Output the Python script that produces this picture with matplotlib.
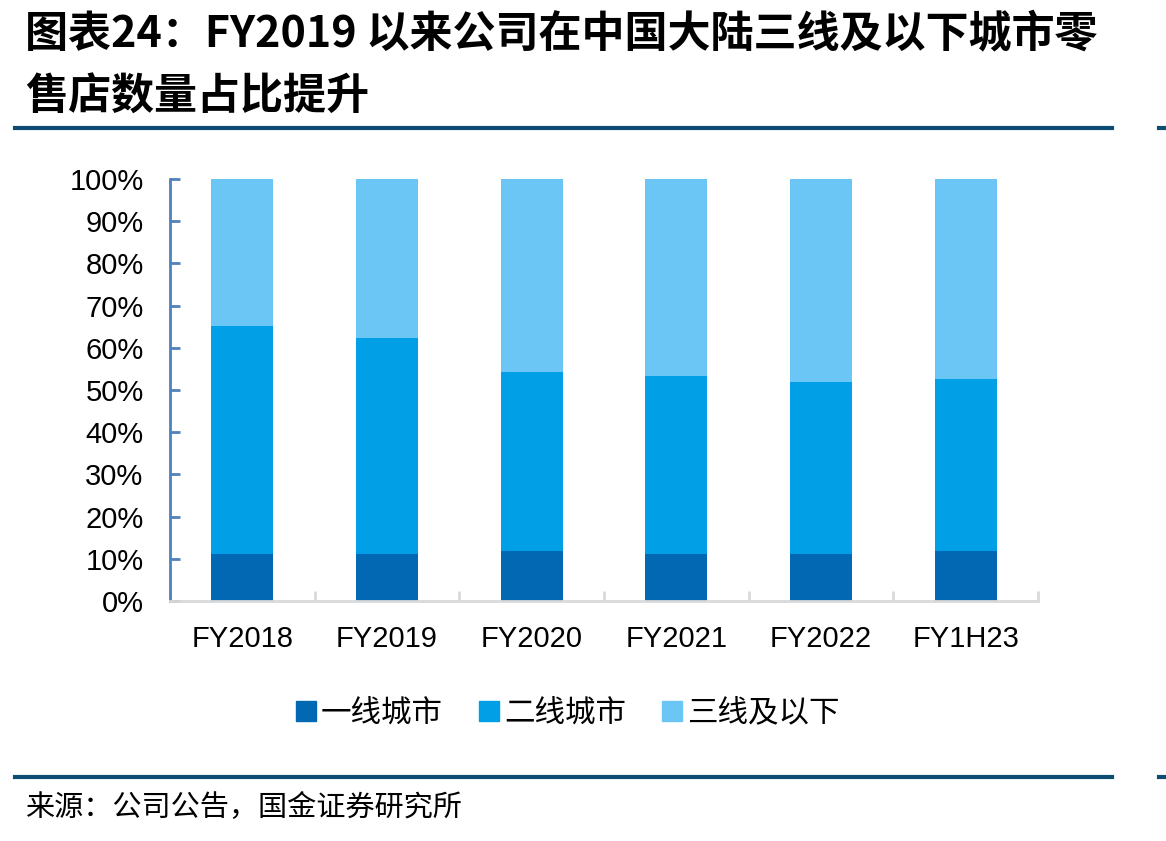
import numpy as np
import matplotlib
matplotlib.use("Agg")
import matplotlib.pyplot as plt
from matplotlib.lines import Line2D

plt.rcParams['font.family'] = ['Liberation Sans', 'Noto Sans CJK SC', 'DejaVu Sans']

# data (share of retail stores, %)
years = ["FY2018", "FY2019", "FY2020", "FY2021", "FY2022", "FY1H23"]
tier1 = [11.1, 11.1, 11.9, 11.1, 11.1, 11.8]
tier2 = [54.0, 51.2, 42.4, 42.2, 40.7, 40.8]
tier3 = [34.9, 37.7, 45.7, 46.7, 48.2, 47.4]
series_names = ["一线城市", "二线城市", "三线及以下"]
colors = ["#0368B3", "#009FE6", "#6CC6F5"]

fig = plt.figure(figsize=(11.66, 8.41), dpi=100)
W, H = 1166, 841

# axes: left 170px, right 1038px, top 179px, bottom 601px
ax = fig.add_axes([170 / W, 1 - 601 / H, (1038 - 170) / W, (601 - 179) / H])

x = np.arange(len(years))
t1 = np.array(tier1) / 100
t2 = np.array(tier2) / 100
t3 = np.array(tier3) / 100
bw = 0.43
ax.bar(x, t1, bw, color=colors[0], label=series_names[0])
ax.bar(x, t2, bw, bottom=t1, color=colors[1], label=series_names[1])
ax.bar(x, t3, bw, bottom=t1 + t2, color=colors[2], label=series_names[2])

ax.set_xlim(-0.5, len(years) - 0.5)
ax.set_ylim(0, 1)
ax.set_yticks(np.arange(0, 1.01, 0.1))
ax.set_yticklabels([f"{int(round(v * 100))}%" for v in np.arange(0, 1.01, 0.1)])
ax.set_xticks(x)
ax.set_xticklabels(years)
ax.set_xticks(np.arange(-0.5, len(years)), minor=True)

for s in ["top", "right"]:
    ax.spines[s].set_visible(False)
ax.spines["left"].set_color("#4F81BD")
ax.spines["left"].set_linewidth(2)
ax.spines["bottom"].set_color("#D9D9D9")
ax.spines["bottom"].set_linewidth(2)

ax.tick_params(axis="y", direction="in", length=7, width=2, color="#4F81BD",
               labelsize=21, pad=19, labelcolor="black")
ax.tick_params(axis="x", which="major", length=0, labelsize=21, pad=17)
ax.tick_params(axis="x", which="minor", direction="in", length=7, width=2,
               color="#D9D9D9")

# legend
handles = [Line2D([0], [0], marker="s", linestyle="none", markersize=15,
                  markerfacecolor=c, markeredgecolor=c) for c in colors]
fig.legend(handles, series_names, loc="center", ncol=3,
           bbox_to_anchor=(565 / W, 1 - 713 / H), frameon=False,
           prop={"family": ["Noto Sans CJK SC"], "size": 22},
           handletextpad=0.0, columnspacing=1.0, handlelength=1.0)

# title
title_font = ["Noto Sans CJK SC", "DejaVu Sans"]
fig.text(25 / W, 1 - 33 / H, "图表24：FY2019 以来公司在中国大陆三线及以下城市零",
         fontsize=31, fontweight="bold", va="center", ha="left",
         family=title_font)
fig.text(25 / W, 1 - 97 / H, "售店数量占比提升",
         fontsize=31, fontweight="bold", va="center", ha="left",
         family=title_font)

# separator lines (with the small stub at the right edge)
rule_color = "#0E4D73"
for yy in [128, 777]:
    fig.add_artist(Line2D([15 / W, 1112 / W], [1 - yy / H, 1 - yy / H],
                          color=rule_color, linewidth=3))
    fig.add_artist(Line2D([1159 / W, 1166 / W], [1 - yy / H, 1 - yy / H],
                          color=rule_color, linewidth=3))

# source
fig.text(25 / W, 1 - 808 / H, "来源：公司公告，国金证券研究所",
         fontsize=21, va="center", ha="left", family=title_font)

fig.savefig("out.png", dpi=100)
